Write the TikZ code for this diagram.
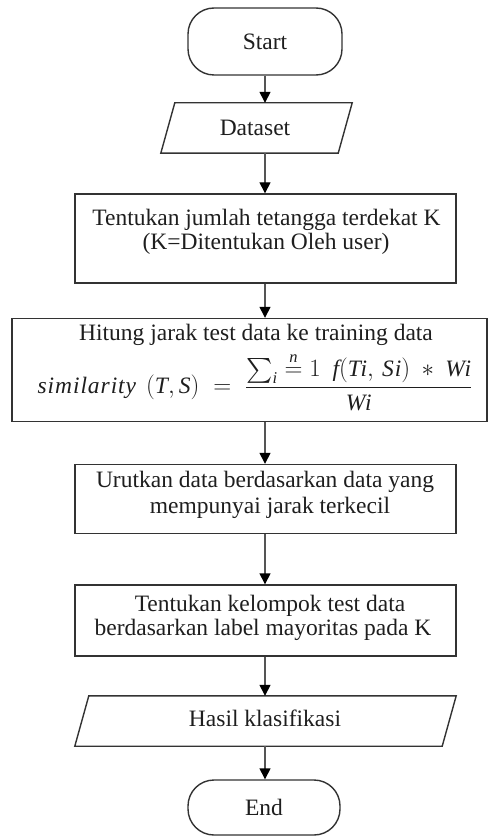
\documentclass[tikz,border=0pt]{standalone}
\usepackage{amsmath}
\usepackage{fontspec}
\setmainfont{Liberation Serif}
\usetikzlibrary{arrows.meta}

\definecolor{ink}{HTML}{1E1E1E}
\definecolor{edge}{HTML}{333333}
\definecolor{wire}{HTML}{555555}

% spaced italic for the variables of the formula
\newcommand{\mv}[1]{\textit{\addfontfeature{LetterSpace=4}#1}}

\tikzset{
  terminal/.style={draw=edge, line width=1.4pt, rounded corners=26pt, inner sep=0pt},
  iobox/.style={rectangle, inner sep=0pt},
  ioline/.style={draw=edge, line width=1.4pt, line join=miter},
  procbox/.style={draw=edge, line width=1.4pt, rectangle, inner sep=0pt},
  label/.style={text=ink, font=\fontsize{23.5}{27}\selectfont, align=center, inner sep=0pt},
  arr/.style={draw=wire, line width=1.4pt, -{Triangle[length=11pt,width=11pt,color=black]}},
}

\begin{document}
\begin{tikzpicture}[x=1pt,y=-1pt]
  \useasboundingbox (0,0) rectangle (489,837);

  % start terminal
  \node[terminal, minimum width=154pt, minimum height=67pt] (start) at (265,41.5) {};
  \node[label] at (start.center) {Start};

  % input parallelogram
  \node[iobox, minimum width=191pt, minimum height=50pt] (data) at (256.5,128) {};
  \draw[ioline] (data.south west) -- ([xshift=14pt]data.north west) -- (data.north east)
                -- ([xshift=-14pt]data.south east) -- cycle;
  \node[label] at (255,128) {Dataset};

  % process steps
  \node[procbox, minimum width=381pt, minimum height=89pt] (k) at (265.5,238.5) {};
  \node[label] at (266.5,220) {Tentukan jumlah tetangga terdekat K};
  \node[label] at (266,244) {(K=Ditentukan Oleh user)};

  \node[procbox, minimum width=475pt, minimum height=103pt] (dist) at (249.5,370) {};
  \node[label] at (256,335) {Hitung jarak test data ke training data};
  \node[label] (formula) at (255,393)
    {$\mv{similarity}\ \,(\mv{T},\mv{S}) \;= \;\dfrac{\smash[t]{\sum_{\mv{i}} \overset{\mv{n}}{=} 1\ \ \mv{f}(\mv{Ti},\,\mv{Si})\ \ast\ \mv{Wi}}}{\mv{Wi}}$};

  \node[procbox, minimum width=381pt, minimum height=69pt] (sort) at (265.5,499) {};
  \node[label] at (265,482) {Urutkan data berdasarkan data yang};
  \node[label] at (270,507.5) {mempunyai jarak terkecil};

  \node[procbox, minimum width=381pt, minimum height=71pt] (vote) at (265.5,620.5) {};
  \node[label] at (270,606) {Tentukan kelompok test data};
  \node[label] at (263,629.5) {berdasarkan label mayoritas pada K};

  % output parallelogram
  \node[iobox, minimum width=381pt, minimum height=50pt] (out) at (265.5,721) {};
  \draw[ioline] (out.south west) -- ([xshift=14pt]out.north west) -- (out.north east)
                -- ([xshift=-14pt]out.south east) -- cycle;
  \node[label] at (265,718) {Hasil klasifikasi};

  % end terminal
  \node[terminal, minimum width=152pt, minimum height=55pt] (end) at (264,807.5) {};
  \node[label] at (end.center) {End};

  % connectors
  \draw[arr] (start.south) -- (start.south |- data.north);
  \draw[arr] (start.south |- data.south) -- (start.south |- k.north);
  \draw[arr] (start.south |- k.south) -- (start.south |- dist.north);
  \draw[arr] (start.south |- dist.south) -- (start.south |- sort.north);
  \draw[arr] (start.south |- sort.south) -- (start.south |- vote.north);
  \draw[arr] (start.south |- vote.south) -- (start.south |- out.north);
  \draw[arr] (start.south |- out.south) -- (start.south |- end.north);
\end{tikzpicture}
\end{document}
